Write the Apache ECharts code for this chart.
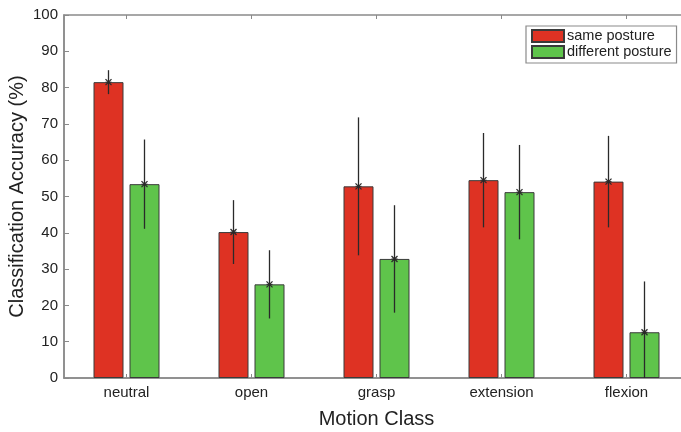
<!DOCTYPE html>
<html>
<head>
<meta charset="utf-8">
<script src="https://cdn.jsdelivr.net/npm/echarts@6/dist/echarts.min.js"></script>
<style>html,body{margin:0;padding:0;background:#fff}#c{width:681px;height:432px}</style>
</head>
<body>
<div id="c"></div>
<script>
var categories = ['neutral', 'open', 'grasp', 'extension', 'flexion'];
var samePosture = [81.5, 40.2, 52.8, 54.5, 54.1];
var diffPosture = [53.4, 25.8, 32.8, 51.2, 12.6];
var sameErr = [3.3, 8.8, 19.0, 13.0, 12.6];
var diffErr = [12.3, 9.4, 14.8, 13.0, 14.0];
var seriesNames = ['same posture', 'different posture'];

var BAR_W = 30, BAR_GAP = 6;
var FONT = '"Liberation Sans", Arial, Helvetica, sans-serif';

function errSeries(values, errs, sign) {
  var data = values.map(function (v, i) { return [i, v, v - errs[i], v + errs[i]]; });
  return {
    type: 'custom',
    silent: true,
    z: 10,
    clip: true,
    data: data,
    encode: { x: 0, y: [1, 2, 3] },
    renderItem: function (params, api) {
      var off = sign * (BAR_W + BAR_GAP) / 2;
      var c = api.coord([api.value(0), api.value(1)]);
      var lo = api.coord([api.value(0), api.value(2)]);
      var hi = api.coord([api.value(0), api.value(3)]);
      var x = c[0] + off;
      var s = 3;
      var st = { stroke: '#2a2a2a', lineWidth: 1.3 };
      return {
        type: 'group',
        children: [
          { type: 'line', shape: { x1: x, y1: lo[1], x2: x, y2: hi[1] }, style: st },
          { type: 'line', shape: { x1: x - s, y1: c[1] - s, x2: x + s, y2: c[1] + s }, style: st },
          { type: 'line', shape: { x1: x - s, y1: c[1] + s, x2: x + s, y2: c[1] - s }, style: st },
          { type: 'line', shape: { x1: x - s, y1: c[1], x2: x + s, y2: c[1] }, style: { stroke: '#2a2a2a', lineWidth: 1 } }
        ]
      };
    }
  };
}

var chart = echarts.init(document.getElementById('c'), null, { renderer: 'canvas' });
chart.setOption({
  animation: false,
  backgroundColor: '#fff',
  textStyle: { fontFamily: FONT },
  grid: { left: 64, top: 15, width: 625, height: 363, show: true, borderColor: '#8a8a8a', borderWidth: 1.5, containLabel: false, outerBoundsMode: 'none' },
  legend: {
    data: seriesNames,
    left: 526, top: 26,
    orient: 'vertical',
    itemWidth: 32, itemHeight: 12, itemGap: 0,
    padding: [2, 5, 3, 5],
    borderColor: '#8a8a8a', borderWidth: 1.2,
    backgroundColor: '#fff',
    selectedMode: false,
    icon: 'rect',
    textStyle: { fontSize: 14.5, lineHeight: 16, color: '#222', fontFamily: FONT, padding: [0, 0, 0, -2] }
  },
  xAxis: [{
    type: 'category',
    data: categories,
    position: 'bottom',
    name: 'Motion Class',
    nameLocation: 'middle',
    nameGap: 31,
    nameMoveOverlap: false,
    nameTextStyle: { fontSize: 20, color: '#222', fontFamily: FONT },
    axisLine: { show: true, lineStyle: { color: '#8a8a8a', width: 1.5 } },
    axisTick: { show: true, inside: true, alignWithLabel: true, length: 4, lineStyle: { color: '#8a8a8a' } },
    axisLabel: { fontSize: 15, color: '#222', margin: 7, fontFamily: FONT },
    splitLine: { show: false }
  }, {
    type: 'category',
    data: categories,
    position: 'top',
    axisLine: { show: false },
    axisTick: { show: true, inside: true, alignWithLabel: true, length: 4, lineStyle: { color: '#8a8a8a' } },
    axisLabel: { show: false }
  }],
  yAxis: {
    type: 'value',
    min: 0, max: 100, interval: 10,
    name: 'Classification Accuracy (%)',
    nameLocation: 'middle',
    nameGap: 37,
    nameMoveOverlap: false,
    nameTextStyle: { fontSize: 20, color: '#222', fontFamily: FONT },
    axisLine: { show: true, lineStyle: { color: '#8a8a8a', width: 1.5 } },
    axisTick: { show: true, inside: true, length: 5, lineStyle: { color: '#8a8a8a' } },
    axisLabel: { fontSize: 15, color: '#222', margin: 6, fontFamily: FONT },
    splitLine: { show: false }
  },
  series: [{
    name: seriesNames[0],
    type: 'bar',
    data: samePosture,
    barWidth: BAR_W,
    barGap: (BAR_GAP / BAR_W * 100) + '%',
    itemStyle: { color: '#de3223', borderColor: '#3a3a3a', borderWidth: 1 }
  }, {
    name: seriesNames[1],
    type: 'bar',
    data: diffPosture,
    barWidth: BAR_W,
    itemStyle: { color: '#5fc44b', borderColor: '#3a3a3a', borderWidth: 1 }
  },
  errSeries(samePosture, sameErr, -1),
  errSeries(diffPosture, diffErr, 1)
  ]
});
</script>
</body>
</html>
